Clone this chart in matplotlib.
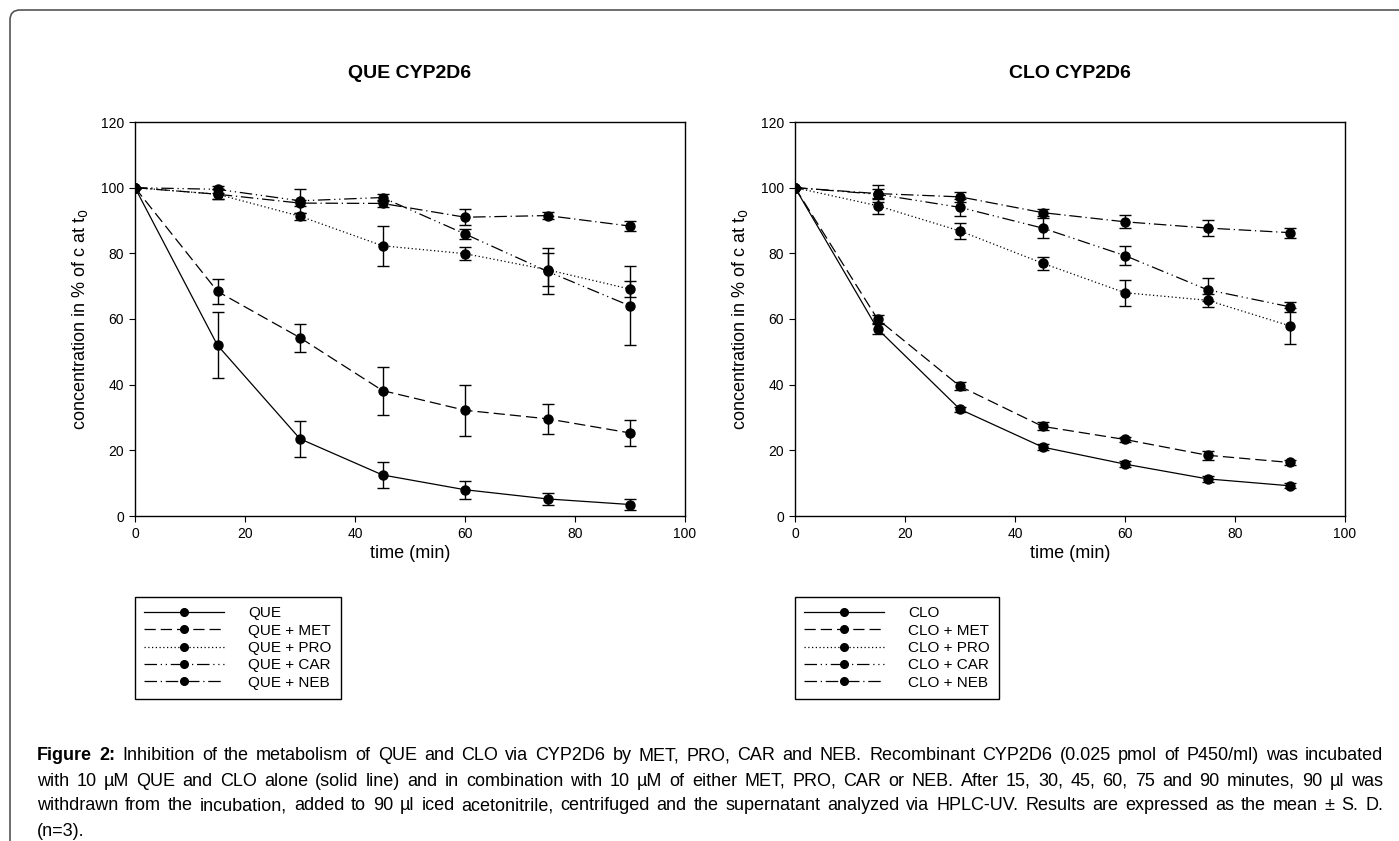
import matplotlib
matplotlib.use("Agg")
import matplotlib.pyplot as plt
from matplotlib.patches import FancyBboxPatch
from matplotlib.transforms import IdentityTransform

plt.rcParams['font.family'] = ['Liberation Sans', 'DejaVu Sans']

# sampling times (min)
time = [0, 15, 30, 45, 60, 75, 90]

# QUE CYP2D6 (% of c at t0), mean and S.D.
que = [100, 52, 23.5, 12.5, 8.0, 5.2, 3.5]
que_sd = [0, 10, 5.4, 4.0, 2.7, 1.9, 1.6]
que_met = [100, 68.4, 54.3, 38.2, 32.2, 29.6, 25.3]
que_met_sd = [0, 3.7, 4.2, 7.3, 7.8, 4.6, 3.9]
que_pro = [100, 98, 91.3, 82.3, 79.9, 75.0, 69.1]
que_pro_sd = [0, 1.5, 1.0, 6.1, 2.0, 5.0, 2.5]
que_car = [100, 99.5, 96.0, 97.0, 85.9, 74.5, 64.0]
que_car_sd = [0, 1.0, 3.7, 1.0, 1.5, 7.0, 12.0]
que_neb = [100, 98, 95.3, 95.2, 91.0, 91.5, 88.3]
que_neb_sd = [0, 1.5, 1.0, 1.0, 2.5, 1.0, 1.5]

# CLO CYP2D6
clo = [100, 57.0, 32.5, 21.0, 15.8, 11.3, 9.2]
clo_sd = [0, 1.5, 0.8, 0.8, 0.8, 0.8, 0.8]
clo_met = [100, 60.0, 39.5, 27.3, 23.3, 18.5, 16.3]
clo_met_sd = [0, 1.2, 1.2, 1.2, 0.8, 1.3, 0.8]
clo_pro = [100, 94.5, 86.8, 77.0, 68.0, 65.7, 57.9]
clo_pro_sd = [0, 2.5, 2.5, 2.0, 4.0, 2.0, 5.5]
clo_car = [100, 98.0, 94.0, 87.7, 79.3, 68.9, 63.7]
clo_car_sd = [0, 1.5, 2.5, 3.0, 3.0, 3.5, 1.5]
clo_neb = [100, 98.2, 97.2, 92.4, 89.6, 87.7, 86.3]
clo_neb_sd = [0, 2.5, 1.5, 1.0, 2.0, 2.5, 1.5]

suffixes = ["", " + MET", " + PRO", " + CAR", " + NEB"]
styles = ["-", (0, (9, 4)), (0, (1, 2)), (0, (10, 3, 1, 3, 1, 3)), (0, (10, 3, 1, 3))]

caption = [
    "Figure 2: Inhibition of the metabolism of QUE and CLO via CYP2D6 by MET, PRO, CAR and NEB. Recombinant CYP2D6 (0.025 pmol of P450/ml) was incubated",
    "with 10 \u00b5M QUE and CLO alone (solid line) and in combination with 10 \u00b5M of either MET, PRO, CAR or NEB. After 15, 30, 45, 60, 75 and 90 minutes, 90 \u00b5l was",
    "withdrawn from the incubation, added to 90 \u00b5l iced acetonitrile, centrifuged and the supernatant analyzed via HPLC-UV. Results are expressed as the mean \u00b1 S. D.",
    "(n=3).",
]

W, H = 1399, 841
fig = plt.figure(figsize=(W / 100, H / 100), dpi=100)

# rounded frame, open at right and bottom edges (pixel coords from bottom-left)
frame = FancyBboxPatch((10, -40), 1450, H - 10 + 40, boxstyle="round,pad=0,rounding_size=10",
                       transform=IdentityTransform(), fill=False, ec="#555555", lw=1.2)
fig.patches.append(frame)

panels = [
    ("QUE", 135, [que, que_met, que_pro, que_car, que_neb],
     [que_sd, que_met_sd, que_pro_sd, que_car_sd, que_neb_sd]),
    ("CLO", 795, [clo, clo_met, clo_pro, clo_car, clo_neb],
     [clo_sd, clo_met_sd, clo_pro_sd, clo_car_sd, clo_neb_sd]),
]

for name, left, series, sds in panels:
    ax = fig.add_axes([left / W, 1 - 516 / H, 550 / W, 394 / H])
    handles = []
    for vals, sd, ls, suf in zip(series, sds, styles, suffixes):
        ax.errorbar(time, vals, yerr=sd, fmt="none", ecolor="black",
                    elinewidth=1, capsize=4, capthick=1, zorder=2)
        ln, = ax.plot(time, vals, linestyle=ls, color="black", lw=0.9,
                      marker="o", ms=6.5, mfc="black", mec="black", zorder=3,
                      label=name + suf)
        handles.append(ln)
    ax.set_xlim(0, 100)
    ax.set_ylim(0, 120)
    ax.set_xticks(range(0, 101, 20))
    ax.set_yticks(range(0, 121, 20))
    ax.tick_params(direction="out", length=4.5, labelsize=10, top=False, right=False)
    for sp in ax.spines.values():
        sp.set_linewidth(1)
    ax.set_title(name + " CYP2D6", fontsize=14, fontweight="bold", pad=32)
    ax.set_xlabel("time (min)", fontsize=13, labelpad=3)
    ax.set_ylabel("concentration in % of c at t$_0$", fontsize=13, labelpad=8)

    leg = fig.legend(handles=handles, loc="upper left",
                     bbox_to_anchor=(left / W, 1 - 597 / H), borderaxespad=0,
                     numpoints=1, fontsize=11, handlelength=5.2, handletextpad=1.6,
                     labelspacing=0.22, borderpad=0.6, fancybox=False,
                     edgecolor="black", framealpha=1)
    leg.get_frame().set_linewidth(1)
    for h in leg.legend_handles:
        h.set_markersize(5.5)

# justified caption, bold lead "Figure 2:"
renderer = fig.canvas.get_renderer()
x_left, x_right = 37, 1383
cap_fs = 13
for i, line in enumerate(caption):
    y = 1 - (756 + 25 * i) / H
    words = line.split(" ")
    texts = []
    for j, wd in enumerate(words):
        bold = (i == 0 and j < 2)
        t = fig.text(0, y, wd, fontsize=cap_fs, va="center", ha="left",
                     fontweight="bold" if bold else "normal")
        texts.append(t)
    widths = [t.get_window_extent(renderer).width for t in texts]
    if i < len(caption) - 1 and len(words) > 1:
        gap = (x_right - x_left - sum(widths)) / (len(words) - 1)
    else:
        gap = cap_fs * 0.28 * 100 / 72
    x = x_left
    for t, w in zip(texts, widths):
        t.set_x(x / W)
        x += w + gap

fig.savefig("out.png", dpi=100)
